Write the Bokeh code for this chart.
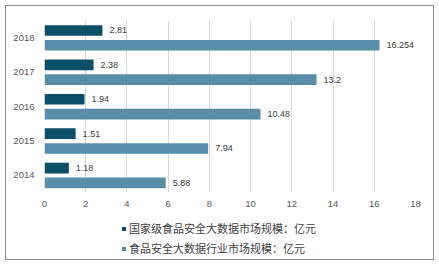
from bokeh.plotting import figure
from bokeh.layouts import column
from bokeh.models import (ColumnDataSource, FactorRange, Range1d, FixedTicker, Legend,
                          LegendItem)
from bokeh.transform import dodge
from bokeh.core.properties import value
from bokeh.embed import file_html
from bokeh.resources import INLINE

# ---- data ----
years = ["2014", "2015", "2016", "2017", "2018"]
national = [1.18, 1.51, 1.94, 2.38, 2.81]
industry = [5.88, 7.94, 10.48, 13.2, 16.254]
x_ticks = [0, 2, 4, 6, 8, 10, 12, 14, 16, 18]
series_names = ["国家级食品安全大数据市场规模：亿元", "食品安全大数据行业市场规模：亿元"]

DARK = "#0d4e69"
LIGHT = "#5a8ea8"
TXT = "#404040"
FONT = "Liberation Sans"

src = ColumnDataSource(dict(
    year=years, nat=national, ind=industry,
    nat_lbl=[str(v) for v in national], ind_lbl=[str(v) for v in industry],
))

yr = FactorRange(factors=years, range_padding=0)
xr = Range1d(0, 18)

p = figure(width=439, height=211, output_backend="svg", toolbar_location=None,
           y_range=yr, x_range=xr,
           min_border_left=44, min_border_right=24, min_border_top=20, min_border_bottom=19)
p.outline_line_color = None
p.background_fill_color = None
p.border_fill_color = None


def bars(fig, visible=True):
    a = fig.hbar(y=dodge("year", 0.21, range=yr), right="nat", left=0, height=0.31,
                 source=src, fill_color=DARK, line_color=None, visible=visible)
    b = fig.hbar(y=dodge("year", -0.22, range=yr), right="ind", left=0, height=0.31,
                 source=src, fill_color=LIGHT, line_color=None, visible=visible)
    return a, b


bars(p)

p.text(x="nat", y=dodge("year", 0.21, range=yr), text="nat_lbl", source=src,
       x_offset=7, text_baseline="middle", text_font=value(FONT), text_font_size="9px",
       text_color=TXT)
p.text(x="ind", y=dodge("year", -0.22, range=yr), text="ind_lbl", source=src,
       x_offset=7, text_baseline="middle", text_font=value(FONT), text_font_size="9px",
       text_color=TXT)

# axes
p.xaxis.ticker = FixedTicker(ticks=x_ticks)
for ax in (p.xaxis[0], p.yaxis[0]):
    ax.axis_line_color = None
    ax.major_tick_line_color = None
    ax.minor_tick_line_color = None
    ax.major_label_text_font = FONT
    ax.major_label_text_font_size = "9.5px"
    ax.major_label_text_color = "#595959"
p.xaxis.major_label_standoff = 2
p.yaxis.major_label_standoff = 4

p.xgrid.grid_line_color = "#d9d9d9"
p.ygrid.grid_line_color = None

# legend strip
p2 = figure(width=439, height=54, output_backend="svg", toolbar_location=None,
            y_range=yr, x_range=xr, x_axis_location=None, y_axis_location=None,
            min_border_left=0, min_border_right=0, min_border_top=0, min_border_bottom=0)
p2.outline_line_color = None
p2.background_fill_color = None
p2.border_fill_color = None
p2.grid.grid_line_color = None
l1, l2 = bars(p2, visible=False)

legend = Legend(items=[LegendItem(label=series_names[0], renderers=[l1]),
                       LegendItem(label=series_names[1], renderers=[l2])],
                location=(77, 9), orientation="vertical",
                glyph_width=5, glyph_height=5, label_standoff=3,
                label_height=15, spacing=4, padding=0, margin=0,
                border_line_color=None, background_fill_alpha=0,
                inactive_fill_alpha=0,
                label_text_font="Noto Sans CJK SC", label_text_font_size="11px",
                label_text_color=TXT)
p2.add_layout(legend, "center")

layout = column(p, p2, spacing=0,
                styles={"outline": "1px solid #8c8c8c", "outline-offset": "-6px"})

open("out.html", "w").write(file_html(layout, INLINE))
